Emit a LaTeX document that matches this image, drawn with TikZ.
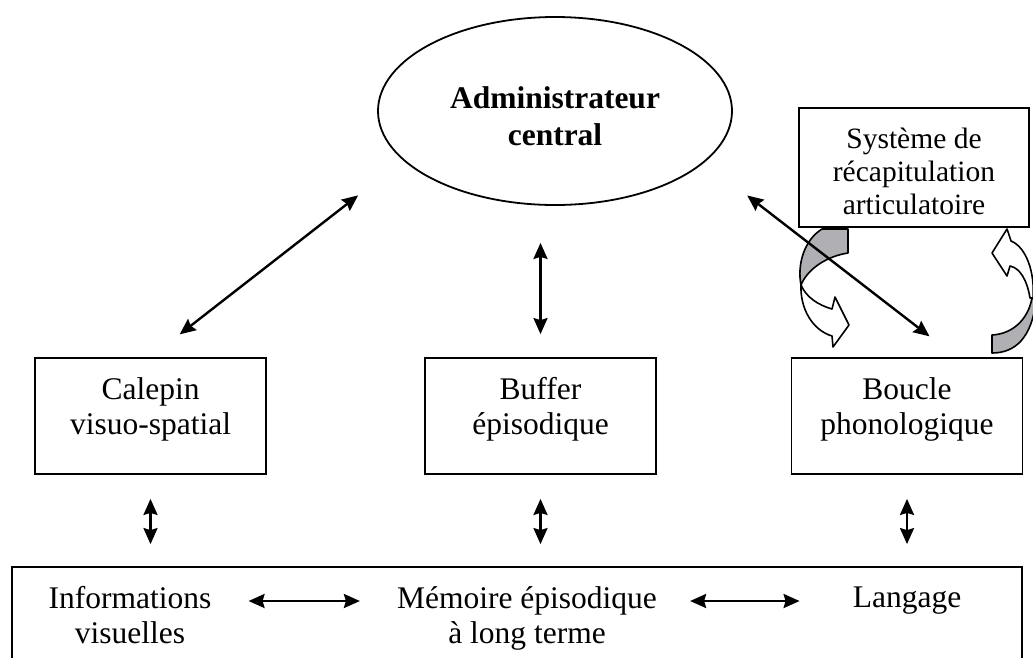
\documentclass[tikz,border=0pt]{standalone}
\usepackage{fontspec}
\setmainfont{Liberation Serif}
\usetikzlibrary{arrows.meta,positioning,calc,shapes.geometric}
\definecolor{curlgray}{RGB}{176,176,180}

\begin{document}
\begin{tikzpicture}[x=1pt,y=-1pt,font=\fontsize{31.5}{35}\selectfont,
  >={Stealth[length=16pt,width=14pt,inset=2pt]},
  b/.style={draw,line width=1.8pt,minimum width=231pt,minimum height=116pt,
    inner sep=0pt,align=center},
  lbl/.style={inner sep=0pt,align=center},
  dbl/.style={<->,line width=2.4pt},
  curl/.style={draw,line width=1.6pt,line join=round}]
\useasboundingbox (0,0) rectangle (1033,657);
% central executive
\node[draw,ellipse,line width=1.8pt,minimum width=354pt,minimum height=188pt] (admin) at (555,111) {};
\node[lbl,font=\fontsize{31.5}{37}\selectfont\bfseries] (admintxt) at (555,116) {Administrateur\\central};
% slave systems
\node[b] (calepin) at (150.5,416) {};
\node[lbl] (calepintxt) at ([yshift=7pt]calepin) {Calepin\\visuo-spatial};
\node[b] (buffer) at (540.5,416) {};
\node[lbl] (buffertxt) at ([yshift=7pt]buffer) {Buffer\\épisodique};
\node[b] (boucle) at (907,416) {};
\node[lbl] (boucletxt) at ([yshift=7pt]boucle) {Boucle\\phonologique};
% rehearsal loop arrows
\filldraw[curl,fill=curlgray] (822,229) -- (848,229) -- (848,253)
  .. controls (828,256) and (808,268) .. (801,285)
  .. controls (797,265) and (804,240) .. cycle;
\filldraw[curl,fill=white] (801,285) .. controls (800,308) and (812,330) .. (832,336)
  -- (833,347) -- (849,325) -- (835,297) -- (832,309)
  .. controls (818,305) and (806,297) .. cycle;
\filldraw[curl,fill=curlgray] (992,335) -- (992,353)
  .. controls (1015,353) and (1032,338) .. (1036,300) -- (1032,298)
  .. controls (1028,320) and (1012,334) .. cycle;
\filldraw[curl,fill=white] (1033,298) .. controls (1035,272) and (1026,247) .. (1011,241)
  -- (1007,229) -- (992,253) -- (1007,276) -- (1010,266)
  .. controls (1020,268) and (1027,280) .. (1030,298) -- cycle;
\node[b,minimum width=230pt,minimum height=119pt] (recap) at (914,167.5) {};
\node[lbl,font=\fontsize{29.5}{33}\selectfont] (recaptxt) at ([yshift=-4pt]recap) {Système de\\récapitulation\\articulatoire};
% long-term memory
\node[b,minimum width=1010pt,minimum height=93pt] (ltm) at (517,613.5) {};
\node[lbl] (visu) at (130,615) {Informations\\visuelles};
\node[lbl] (episod) at (527,618) {Mémoire épisodique\\à long terme};
\node[lbl] (lang) at (907,601) {Langage};
% connectors
\draw[dbl,shorten <=37pt,shorten >=57pt] (calepin.north) -- (admin.198);
\draw[dbl,shorten <=23pt,shorten >=37pt] (buffer.north) -- (buffer.north |- admin.south);
\draw[dbl,shorten <=34pt,shorten >=54pt] (boucle.50) -- (admin.341);
\foreach \n in {calepin,buffer,boucle}
  \draw[dbl,shorten <=24pt,shorten >=22pt] (\n.south) -- (\n.south |- ltm.north);
\draw[dbl,shorten <=37pt,shorten >=37pt] (visu.east |- lang) -- (episod.west |- lang);
\draw[dbl,shorten <=33pt,shorten >=53pt] (episod.east |- lang) -- (lang.west);
\end{tikzpicture}
\end{document}
